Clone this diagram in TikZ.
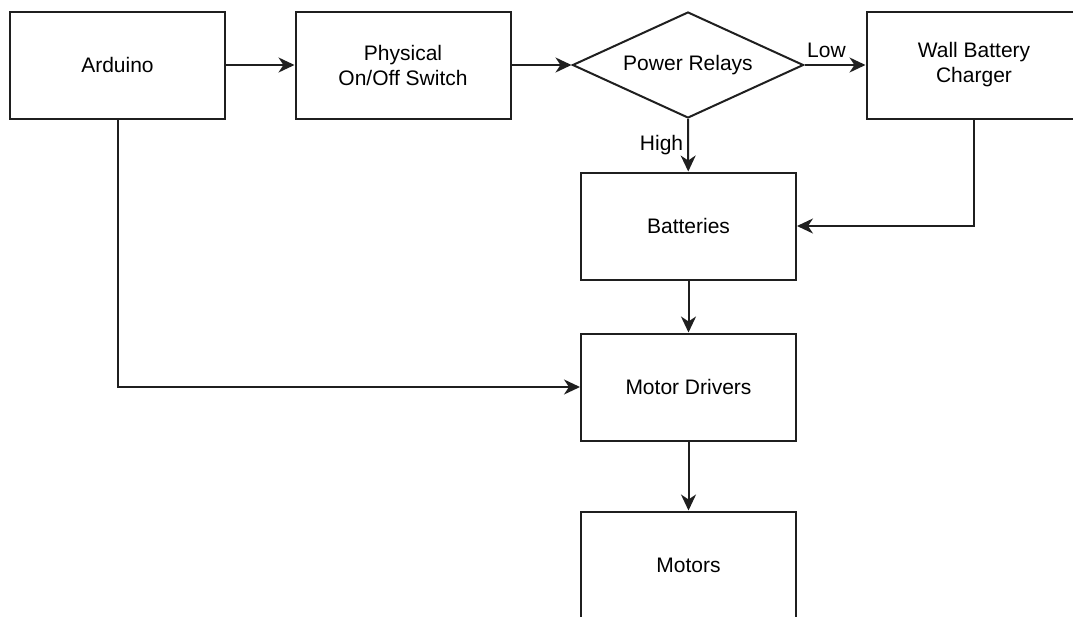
\documentclass[tikz,border=0pt]{standalone}
\usepackage{fontspec}
\setmainfont{Liberation Sans}
\usetikzlibrary{arrows.meta,shapes.geometric}
\begin{document}
\begin{tikzpicture}[x=1pt,y=-1pt,
  box/.style={draw=black!88, line width=2pt, minimum width=215pt, minimum height=107pt, inner sep=0pt, align=center, font=\fontsize{21}{25}\selectfont},
  decide/.style={draw=black!88, line width=2pt, diamond, shape aspect=2.18, minimum width=231pt, minimum height=106pt, inner sep=0pt, font=\fontsize{21}{25}\selectfont},
  conn/.style={draw=black!88, line width=2pt, -{Stealth[length=16pt,width=15pt,inset=5pt]}},
  lbl/.style={font=\fontsize{21}{24}\selectfont, inner sep=6pt}
]
\useasboundingbox (0,0) rectangle (1073,616);
\clip (0,0) rectangle (1073,616);
\fill[white] (0,0) rectangle (1073,616);
\node[box] (ard) at (117.5,65) {Arduino};
\node[box] (phys) at (403,65) {Physical\\On/Off Switch};
\node[decide] (rel) at (688,65) {Power Relays};
\node[box] (chg) at (974,65) {Wall Battery\\Charger};
\node[box] (bat) at (688.5,226) {Batteries};
\node[box] (drv) at (688.5,387) {Motor Drivers};
\node[box] (mot) at (688.5,565) {Motors};

\draw[conn] (ard) -- (phys);
\draw[conn] (phys) -- (rel);
\draw[conn] (rel.east) -- node[lbl, above, pos=0.36] {Low} (chg);
\draw[conn] (rel.south) -- node[lbl, left, pos=0.5, inner sep=4pt] {High} (bat);
\draw[conn] (chg.south) |- (bat.east);
\draw[conn] (bat) -- (drv);
\draw[conn] (ard.south) |- (drv.west);
\draw[conn] (drv) -- (mot);
\end{tikzpicture}
\end{document}
